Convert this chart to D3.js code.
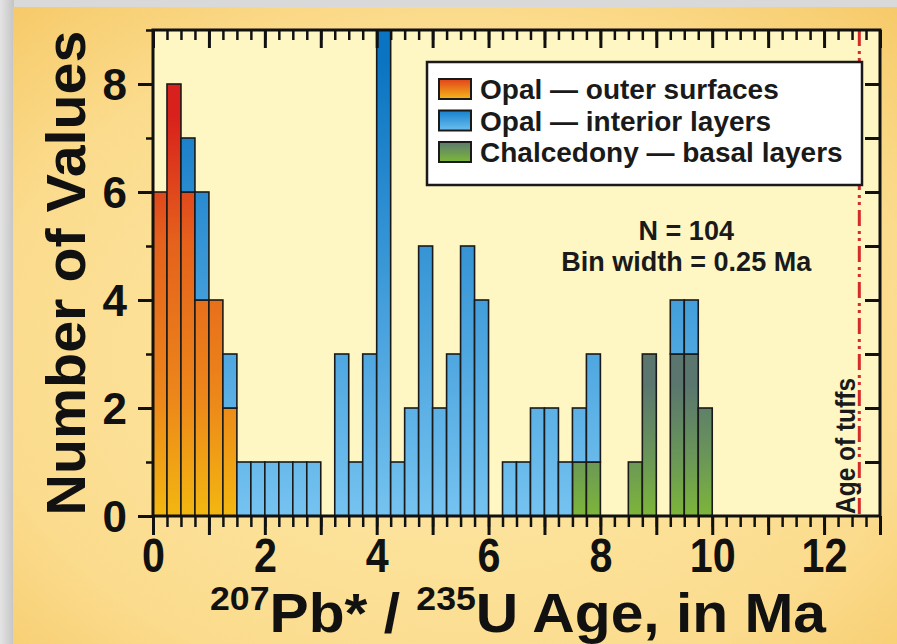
<!DOCTYPE html>
<html>
<head>
<meta charset="utf-8">
<script src="https://cdn.jsdelivr.net/npm/d3@7"></script>
<style>
  html, body { margin: 0; padding: 0; background: #d9d9d9; overflow: hidden; }
  svg { display: block; font-family: "Liberation Sans", Arial, Helvetica, sans-serif; }
</style>
</head>
<body>
<div id="vis"></div>
<script>
// histogram bins, 0.25 Ma wide
var binStarts = [0, 0.25, 0.5, 0.75, 1, 1.25, 1.5, 1.75, 2, 2.25,
                 2.5, 2.75, 3, 3.25, 3.5, 3.75, 4, 4.25, 4.5, 4.75,
                 5, 5.25, 5.5, 5.75, 6, 6.25, 6.5, 6.75, 7, 7.25,
                 7.5, 7.75, 8, 8.25, 8.5, 8.75, 9, 9.25, 9.5, 9.75];
var binWidth = 0.25;

var outerSurfaces = [6, 8, 6, 4, 4, 2, 0, 0, 0, 0,
                     0, 0, 0, 0, 0, 0, 0, 0, 0, 0,
                     0, 0, 0, 0, 0, 0, 0, 0, 0, 0,
                     0, 0, 0, 0, 0, 0, 0, 0, 0, 0];
var interiorLayers = [0, 0, 1, 2, 0, 1, 1, 1, 1, 1,
                      1, 1, 0, 3, 1, 3, 9, 1, 2, 5,
                      2, 3, 5, 4, 0, 1, 1, 2, 2, 1,
                      1, 2, 0, 0, 0, 0, 0, 1, 1, 0];
var basalLayers = [0, 0, 0, 0, 0, 0, 0, 0, 0, 0,
                   0, 0, 0, 0, 0, 0, 0, 0, 0, 0,
                   0, 0, 0, 0, 0, 0, 0, 0, 0, 0,
                   1, 1, 0, 0, 1, 3, 0, 3, 3, 2];

var seriesKeys = ["outer", "basal", "interior"];
var legendKeys = ["outer", "interior", "basal"];
var legendLabels = ["Opal \u2014 outer surfaces", "Opal \u2014 interior layers", "Chalcedony \u2014 basal layers"];

var xTickLabels = [0, 2, 4, 6, 8, 10, 12];
var yTickLabels = [0, 2, 4, 6, 8];
var tuffAge = 12.63;
var sampleCount = 104;

var W = 897, H = 644;
var margin = {top: 30, right: 17, bottom: 128, left: 153},
    width = W - margin.left - margin.right,
    height = H - margin.top - margin.bottom;

var x = d3.scaleLinear().domain([0, 13]).range([0, width]);
var y = d3.scaleLinear().domain([0, 9]).range([height, 0]);

var svg = d3.select("#vis").append("svg")
    .attr("width", W)
    .attr("height", H);

var defs = svg.append("defs");

// panel background
var bg = defs.append("radialGradient").attr("id", "panelGrad")
    .attr("cx", "0.5").attr("cy", "0.55").attr("r", "0.75");
bg.append("stop").attr("offset", "0").attr("stop-color", "#fde9a8");
bg.append("stop").attr("offset", "0.7").attr("stop-color", "#fbdc8e");
bg.append("stop").attr("offset", "1").attr("stop-color", "#f6c968");

var shade = defs.append("linearGradient").attr("id", "shadeGrad")
    .attr("x1", "0").attr("x2", "1").attr("y1", "0").attr("y2", "0");
shade.append("stop").attr("offset", "0").attr("stop-color", "#e4e4e4");
shade.append("stop").attr("offset", "1").attr("stop-color", "#c4c4c4");

function vGrad(id, stops, units, y1, y2) {
  var g = defs.append("linearGradient").attr("id", id)
      .attr("x1", 0).attr("x2", 0);
  if (units) {
    g.attr("gradientUnits", "userSpaceOnUse").attr("y1", y1).attr("y2", y2);
  } else {
    g.attr("y1", 0).attr("y2", 1);
  }
  stops.forEach(function(s) {
    g.append("stop").attr("offset", s[0]).attr("stop-color", s[1]);
  });
}

var orangeStops = [[0, "#d8201c"], [0.3, "#e5621c"], [0.65, "#ec861a"], [1, "#f5c30e"]];
var blueStops = [[0, "#0a74c2"], [1, "#7cc8f3"]];
var greenStops = [[0, "#5a766f"], [0.45, "#6a9658"], [1, "#86c62a"]];

vGrad("grad-outer", orangeStops, true, margin.top + y(8), margin.top + y(0));
vGrad("grad-interior", blueStops, true, margin.top + y(9), margin.top + y(0));
vGrad("grad-basal", greenStops, true, margin.top + y(3), margin.top + y(0));
vGrad("leg-outer", [[0, "#e2421c"], [1, "#f4b818"]], false);
vGrad("leg-interior", [[0, "#1580cc"], [1, "#6cc0f0"]], false);
vGrad("leg-basal", [[0, "#5d7a70"], [1, "#7cb838"]], false);

svg.append("rect").attr("x", 0).attr("y", 0).attr("width", 14).attr("height", H)
    .attr("fill", "url(#shadeGrad)");
svg.append("rect").attr("x", 13).attr("y", 7).attr("width", W - 13).attr("height", H - 7)
    .attr("fill", "url(#panelGrad)");

var g = svg.append("g")
    .attr("transform", "translate(" + margin.left + "," + margin.top + ")");

g.append("rect")
    .attr("width", width).attr("height", height)
    .attr("fill", "#fef7c4");

// stacked bins
var rows = binStarts.map(function(b, i) {
  return {x0: b, outer: outerSurfaces[i], basal: basalLayers[i], interior: interiorLayers[i]};
});
var stacked = d3.stack().keys(seriesKeys)(rows);

g.selectAll(".series")
  .data(stacked)
  .enter().append("g")
    .attr("class", "series")
    .attr("fill", function(s) { return "url(#grad-" + s.key + ")"; })
  .selectAll("rect")
  .data(function(s) { return s.filter(function(d) { return d[1] > d[0]; }); })
  .enter().append("rect")
    .attr("x", function(d) { return x(d.data.x0); })
    .attr("width", function(d) { return x(d.data.x0 + binWidth) - x(d.data.x0); })
    .attr("y", function(d) { return y(d[1]); })
    .attr("height", function(d) { return y(d[0]) - y(d[1]); })
    .attr("stroke", "#1a1a1a")
    .attr("stroke-width", 1.6);

// age of tuffs
g.append("line")
    .attr("x1", x(tuffAge)).attr("x2", x(tuffAge))
    .attr("y1", 0).attr("y2", height)
    .attr("stroke", "#d42a28")
    .attr("stroke-width", 3)
    .attr("stroke-dasharray", "16,5,3,4,3,5");

g.append("text")
    .attr("transform", "translate(" + (x(tuffAge) - 4) + "," + (height - 2) + ") rotate(-90)")
    .attr("font-size", 27)
    .attr("font-weight", "bold")
    .attr("fill", "#1a1a1a")
    .attr("textLength", 136).attr("lengthAdjust", "spacingAndGlyphs")
    .text("Age of tuffs");

// legend
var leg = g.append("g").attr("transform", "translate(" + (427 - margin.left) + "," + (62 - margin.top) + ")");
leg.append("rect")
    .attr("width", 435).attr("height", 123)
    .attr("fill", "#ffffff")
    .attr("stroke", "#1a1a1a")
    .attr("stroke-width", 2.5);
var li = leg.selectAll(".item")
  .data(legendKeys)
  .enter().append("g")
    .attr("transform", function(d, i) { return "translate(12," + (17 + i * 31.5) + ")"; });
li.append("rect")
    .attr("width", 32).attr("height", 20)
    .attr("fill", function(d) { return "url(#leg-" + d + ")"; })
    .attr("stroke", "#1a1a1a")
    .attr("stroke-width", 2);
li.append("text")
    .attr("x", 41).attr("y", 20)
    .attr("font-size", 28)
    .attr("font-weight", "bold")
    .attr("fill", "#1a1a1a")
    .text(function(d, i) { return legendLabels[i]; });

// N and bin width note
g.append("text")
    .attr("x", x(9.5) + 2).attr("y", 240 - margin.top)
    .attr("text-anchor", "middle")
    .attr("font-size", 27).attr("font-weight", "bold").attr("fill", "#1a1a1a")
    .text("N = " + sampleCount);
g.append("text")
    .attr("x", x(9.5) + 2).attr("y", 271 - margin.top)
    .attr("text-anchor", "middle")
    .attr("font-size", 27).attr("font-weight", "bold").attr("fill", "#1a1a1a")
    .text("Bin width = " + binWidth + " Ma");

// frame
g.append("rect")
    .attr("width", width).attr("height", height)
    .attr("fill", "none")
    .attr("stroke", "#111")
    .attr("stroke-width", 3);

var quarters = d3.range(0, 13.001, 0.25);
var integers = d3.range(0, 14, 1);

function tickStyle(sel, w) {
  sel.select(".domain").remove();
  sel.selectAll("line").attr("stroke", "#111").attr("stroke-width", w);
}

g.append("g").attr("transform", "translate(0," + height + ")")
    .call(d3.axisBottom(x).tickValues(quarters).tickSize(11).tickFormat(""))
    .call(tickStyle, 2.5);
g.append("g").attr("transform", "translate(0," + height + ")")
    .call(d3.axisBottom(x).tickValues(integers).tickSize(19).tickPadding(3)
          .tickFormat(function(d) { return xTickLabels.indexOf(d) >= 0 ? d : ""; }))
    .call(tickStyle, 3)
    .selectAll("text")
      .attr("font-size", 48).attr("font-weight", "bold").attr("fill", "#111")
      .attr("font-family", "'Liberation Sans', Arial, sans-serif")
      .attr("transform", "scale(0.86,1)");

g.append("g")
    .call(d3.axisTop(x).tickValues(quarters).tickSize(-10).tickFormat(""))
    .call(tickStyle, 2.5);
g.append("g")
    .call(d3.axisTop(x).tickValues(integers).tickSize(-18).tickFormat(""))
    .call(tickStyle, 3);

g.append("g")
    .call(d3.axisLeft(y).tickValues([1, 3, 5, 7, 9]).tickSize(7).tickFormat(""))
    .call(tickStyle, 2.5);
g.append("g")
    .call(d3.axisLeft(y).tickValues(yTickLabels).tickSize(15).tickPadding(11))
    .call(tickStyle, 3)
    .selectAll("text")
      .attr("font-size", 44).attr("font-weight", "bold").attr("fill", "#111")
      .attr("font-family", "'Liberation Sans', Arial, sans-serif")
      .attr("dy", "0.36em");

g.append("g").attr("transform", "translate(" + width + ",0)")
    .call(d3.axisRight(y).tickValues(d3.range(1, 9, 1)).tickSize(-15).tickFormat(""))
    .call(tickStyle, 3);

// axis titles
svg.append("text")
    .attr("transform", "translate(85," + (margin.top + height / 2) + ") rotate(-90)")
    .attr("text-anchor", "middle")
    .attr("font-size", 56).attr("font-weight", "bold").attr("fill", "#111")
    .attr("textLength", 485).attr("lengthAdjust", "spacingAndGlyphs")
    .text("Number of Values");

var xt = svg.append("text")
    .attr("x", 210).attr("y", 632)
    .attr("font-size", 56).attr("font-weight", "bold").attr("fill", "#111")
    .attr("textLength", 616).attr("lengthAdjust", "spacingAndGlyphs");
xt.append("tspan").attr("font-size", 34).attr("dy", -22).text("207");
xt.append("tspan").attr("dy", 22).text("Pb* / ");
xt.append("tspan").attr("font-size", 34).attr("dy", -22).text("235");
xt.append("tspan").attr("dy", 22).text("U Age, in Ma");
</script>
</body>
</html>
